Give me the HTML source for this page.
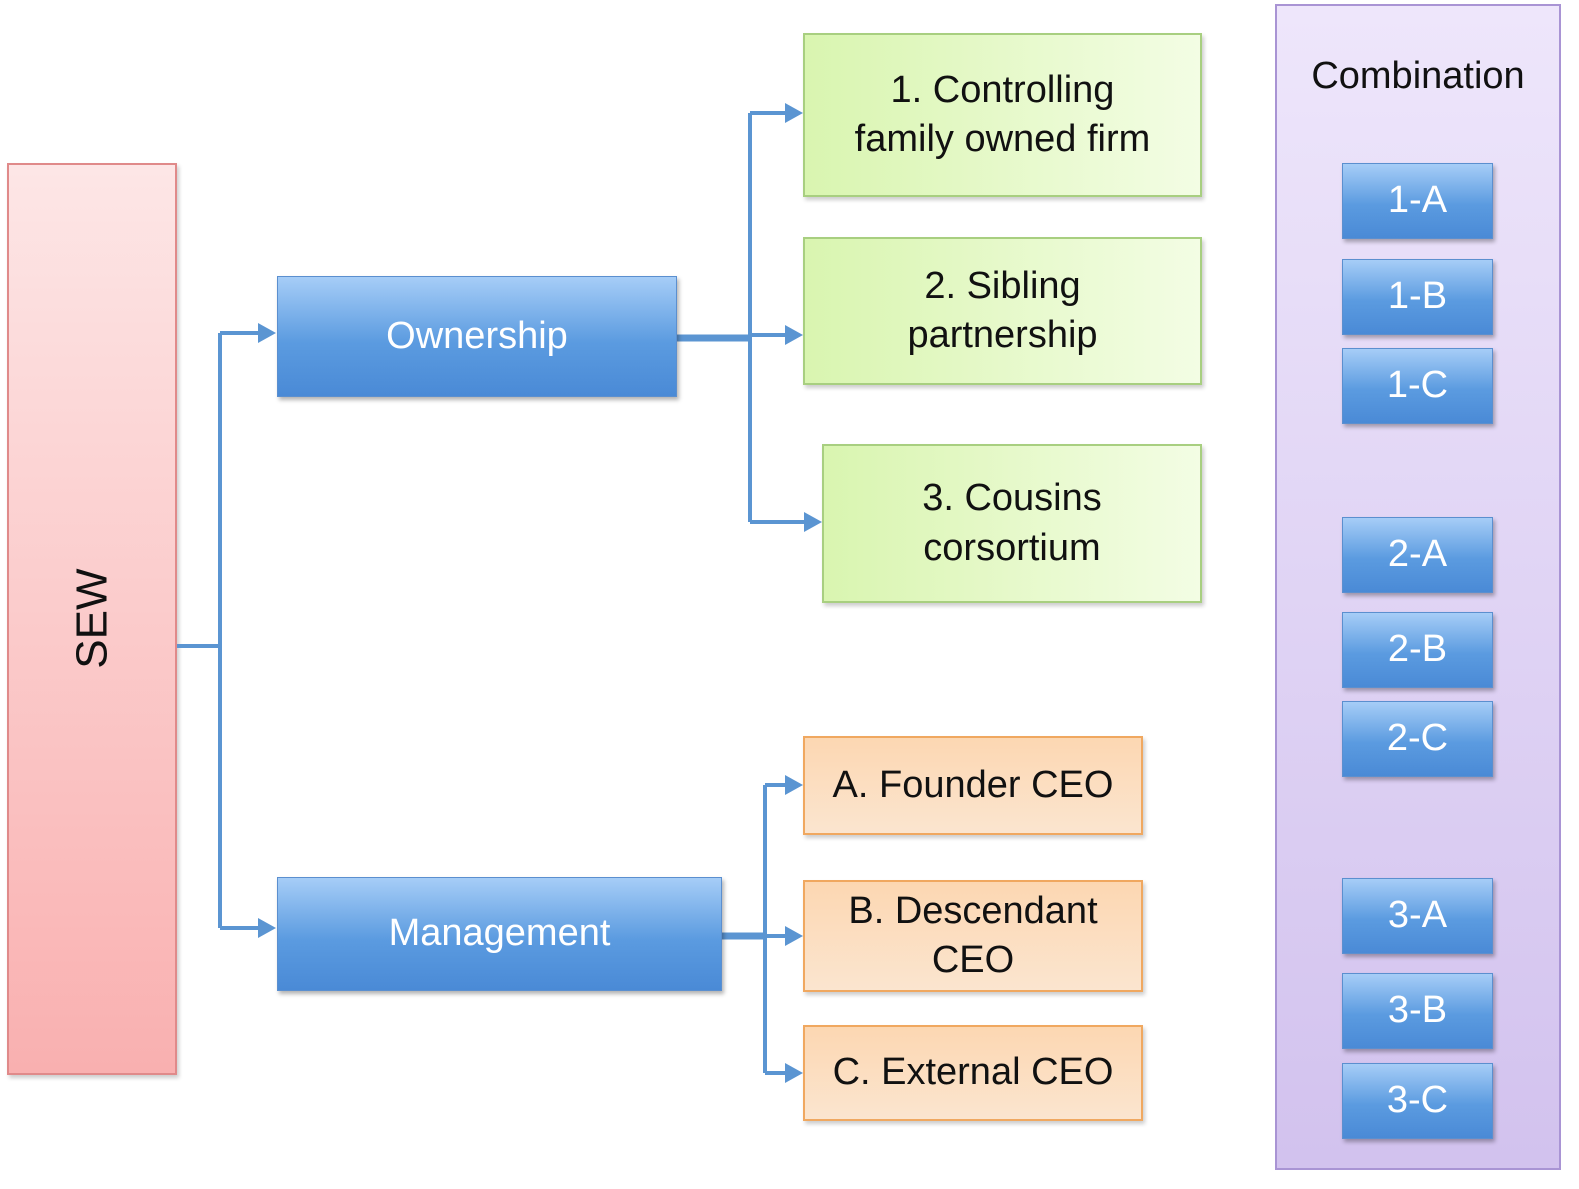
<!DOCTYPE html>
<html><head><meta charset="utf-8"><style>
html,body{margin:0;padding:0;background:#fff;}
body{width:1579px;height:1189px;position:relative;overflow:hidden;font-family:"Liberation Sans",sans-serif;}
.b{position:absolute;box-sizing:border-box;display:flex;align-items:center;justify-content:center;text-align:center;line-height:1.3;}
.blue{background:linear-gradient(#a6cdf7,#5b9be0 55%,#4a8ad6);border:1px solid #5b8fcf;color:#fff;box-shadow:2px 3px 4px rgba(0,0,0,0.3);}
.green{background:linear-gradient(to right,#d9f5b0,#f3fde4);border:2px solid #a8cf80;color:#111;font-size:38px;box-shadow:2px 3px 4px rgba(0,0,0,0.2);}
.orange{background:linear-gradient(#fcd7b2,#fbe5cf);border:2px solid #f0a860;color:#111;font-size:38px;box-shadow:2px 3px 4px rgba(0,0,0,0.2);}
.sm{left:1342px;width:151px;height:76px;font-size:38px;}
</style></head><body>
<div class="b" style="left:7px;top:163px;width:170px;height:912px;background:linear-gradient(#fde6e6,#f9b0b0);border:2px solid #e08a8a;box-shadow:2px 3px 4px rgba(0,0,0,0.2);">
<div style="transform:rotate(-90deg);font-size:44px;color:#111;">SEW</div></div>
<div class="b" style="left:1275px;top:4px;width:286px;height:1166px;background:linear-gradient(#eee6fb,#d2c2ee);border:2px solid #a994d4;align-items:flex-start;padding-top:46px;font-size:38px;color:#111;">Combination</div>
<svg width="1579" height="1189" style="position:absolute;left:0;top:0">
<defs><marker id="a" markerWidth="8" markerHeight="8" refX="6" refY="4" orient="auto" markerUnits="userSpaceOnUse"><path d="M0,0 L8,4 L0,8z" fill="#5b95d2" transform="scale(2.5) translate(-4.8,-2.4)"/></marker></defs>
<g stroke="#5b95d2" stroke-width="4" fill="none">
<path d="M177,646 H220 M220,333 V928"/>
<path d="M220,333 H262 M220,928 H262"/>
<path d="M677,338 H750" stroke-width="7"/>
<path d="M750,113 V522 M750,113 H790 M750,335 H790 M750,522 H808"/>
<path d="M722,936 H765" stroke-width="7"/>
<path d="M765,785 V1073 M765,785 H790 M765,936 H790 M765,1073 H790"/>
</g>
<g fill="#5b95d2">
<path d="M258,323 L276,333 L258,343z"/><path d="M258,918 L276,928 L258,938z"/>
<path d="M785,103 L803,113 L785,123z"/><path d="M785,325 L803,335 L785,345z"/><path d="M804,512 L822,522 L804,532z"/>
<path d="M785,775 L803,785 L785,795z"/><path d="M785,926 L803,936 L785,946z"/><path d="M785,1063 L803,1073 L785,1083z"/>
</g>
</svg>
<div class="b blue" style="left:277px;top:276px;width:400px;height:121px;font-size:38px;">Ownership</div>
<div class="b blue" style="left:277px;top:877px;width:445px;height:114px;font-size:38px;padding-left:0;">Management</div>
<div class="b green" style="left:803px;top:33px;width:399px;height:164px;">1. Controlling<br>family owned firm</div>
<div class="b green" style="left:803px;top:237px;width:399px;height:148px;">2. Sibling<br>partnership</div>
<div class="b green" style="left:822px;top:444px;width:380px;height:159px;">3. Cousins<br>corsortium</div>
<div class="b orange" style="left:803px;top:736px;width:340px;height:99px;">A. Founder CEO</div>
<div class="b orange" style="left:803px;top:880px;width:340px;height:112px;">B. Descendant<br>CEO</div>
<div class="b orange" style="left:803px;top:1025px;width:340px;height:96px;">C. External CEO</div>
<div class="b blue sm" style="top:163px;">1-A</div>
<div class="b blue sm" style="top:259px;">1-B</div>
<div class="b blue sm" style="top:348px;">1-C</div>
<div class="b blue sm" style="top:517px;">2-A</div>
<div class="b blue sm" style="top:612px;">2-B</div>
<div class="b blue sm" style="top:701px;">2-C</div>
<div class="b blue sm" style="top:878px;">3-A</div>
<div class="b blue sm" style="top:973px;">3-B</div>
<div class="b blue sm" style="top:1063px;">3-C</div>
</body></html>
